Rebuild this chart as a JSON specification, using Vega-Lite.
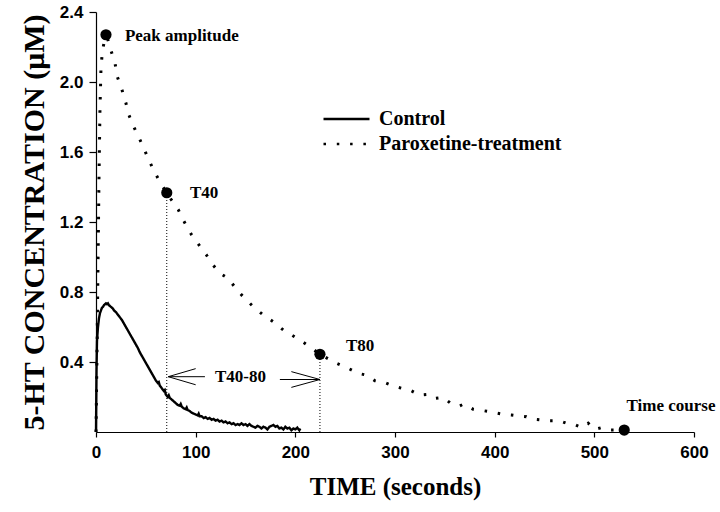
{
  "$schema": "https://vega.github.io/schema/vega-lite/v6.json",
  "autosize": "none",
  "width": 598,
  "height": 420,
  "padding": {"left": 96, "top": 12, "right": 26, "bottom": 80},
  "background": "white",
  "config": {
    "view": {"stroke": null},
    "axis": {
      "domainColor": "black", "domainWidth": 1.2, "tickColor": "black", "tickWidth": 1.2,
      "grid": false, "labelColor": "black", "titleColor": "black", "labelFlush": false,
      "labelFont": "Liberation Sans", "labelFontWeight": "bold", "labelFontSize": 17,
      "titleFont": "Liberation Serif", "titleFontWeight": "bold"
    }
  },
  "datasets": {
    "control": [
      {"t":0,"c":0},{"t":0.5,"c":0.35},{"t":1,"c":0.52},{"t":2,"c":0.6},{"t":3,"c":0.65},{"t":4,"c":0.68},{"t":5,"c":0.695},{"t":6,"c":0.71},{"t":7,"c":0.715},{"t":8,"c":0.725},{"t":9,"c":0.73},{"t":10,"c":0.735},{"t":11,"c":0.73},{"t":12,"c":0.735},{"t":13,"c":0.725},{"t":14,"c":0.72},{"t":15,"c":0.715},{"t":16,"c":0.71},{"t":17,"c":0.705},{"t":18,"c":0.695},{"t":19,"c":0.69},
      {"t":20,"c":0.685},{"t":22,"c":0.67},{"t":24,"c":0.655},{"t":26,"c":0.64},{"t":28,"c":0.62},{"t":30,"c":0.6},{"t":32,"c":0.58},{"t":34,"c":0.56},{"t":36,"c":0.54},{"t":38,"c":0.52},{"t":40,"c":0.5},{"t":42,"c":0.48},{"t":44,"c":0.455},{"t":46,"c":0.435},{"t":48,"c":0.415},{"t":50,"c":0.395},{"t":52,"c":0.375},{"t":54,"c":0.355},{"t":56,"c":0.335},{"t":58,"c":0.315},{"t":60,"c":0.295},{"t":62,"c":0.28},{"t":63,"c":0.285},{"t":64,"c":0.265},{"t":66,"c":0.25},{"t":68,"c":0.235},{"t":69,"c":0.24},{"t":70,"c":0.215},{"t":72,"c":0.2},{"t":73,"c":0.21},{"t":74,"c":0.195},{"t":76,"c":0.185},{"t":78,"c":0.175},{"t":80,"c":0.165},
      {"t":82,"c":0.155},{"t":84,"c":0.15},{"t":85,"c":0.16},{"t":86,"c":0.145},{"t":88,"c":0.135},{"t":90,"c":0.13},{"t":91,"c":0.14},{"t":92,"c":0.125},{"t":94,"c":0.12},{"t":96,"c":0.11},{"t":98,"c":0.105},{"t":100,"c":0.1},{"t":102,"c":0.095},{"t":103,"c":0.105},{"t":104,"c":0.09},{"t":106,"c":0.09},{"t":108,"c":0.08},{"t":110,"c":0.085},{"t":112,"c":0.075},{"t":114,"c":0.08},{"t":116,"c":0.07},{"t":118,"c":0.075},{"t":120,"c":0.065},{"t":122,"c":0.07},{"t":124,"c":0.06},{"t":126,"c":0.065},{"t":128,"c":0.055},{"t":130,"c":0.06},{"t":132,"c":0.05},{"t":134,"c":0.055},{"t":136,"c":0.045},{"t":138,"c":0.05},{"t":140,"c":0.04},{"t":142,"c":0.045},{"t":144,"c":0.04},{"t":146,"c":0.05},{"t":148,"c":0.04},{"t":150,"c":0.045},{"t":152,"c":0.035},{"t":154,"c":0.045},{"t":156,"c":0.035},{"t":158,"c":0.03},{"t":160,"c":0.025},{"t":162,"c":0.035},{"t":164,"c":0.03},{"t":166,"c":0.02},{"t":168,"c":0.03},{"t":170,"c":0.025},{"t":172,"c":0.015},{"t":174,"c":0.03},{"t":176,"c":0.035},{"t":178,"c":0.04},{"t":180,"c":0.03},{"t":182,"c":0.035},{"t":184,"c":0.02},{"t":186,"c":0.025},{"t":188,"c":0.015},{"t":190,"c":0.03},{"t":192,"c":0.02},{"t":194,"c":0.025},{"t":196,"c":0.01},{"t":198,"c":0.02},{"t":200,"c":0.015},{"t":202,"c":0.025},{"t":204,"c":0.01},{"t":205,"c":0.02}
    ],
    "parox": [
      {"t":0,"c":0},{"t":1,"c":0.45},{"t":2,"c":0.95},{"t":3,"c":1.45},{"t":4,"c":1.85},{"t":5,"c":2.08},{"t":6.5,"c":2.18},{"t":9,"c":2.25},{"t":11,"c":2.26},{"t":13,"c":2.22},{"t":15,"c":2.18},{"t":19,"c":2.11},{"t":21.4,"c":2.03},{"t":25.8,"c":1.96},{"t":30,"c":1.88},{"t":32.4,"c":1.82},{"t":37.4,"c":1.75},{"t":47.4,"c":1.63},{"t":52.5,"c":1.56},{"t":57.5,"c":1.5},{"t":64,"c":1.43},{"t":71,"c":1.365},{"t":82.6,"c":1.27},{"t":87.6,"c":1.21},{"t":96,"c":1.126},{"t":111,"c":1.01},{"t":116,"c":0.964},{"t":124.4,"c":0.907},{"t":132.7,"c":0.878},{"t":141,"c":0.815},{"t":147.7,"c":0.773},{"t":157.8,"c":0.716},{"t":167.8,"c":0.669},{"t":177.8,"c":0.63},{"t":187.9,"c":0.583},{"t":196.3,"c":0.554},{"t":204.6,"c":0.526},{"t":214.6,"c":0.487},{"t":224.7,"c":0.444},{"t":241.4,"c":0.392},{"t":253,"c":0.364},{"t":263,"c":0.335},{"t":271.5,"c":0.325},{"t":279.8,"c":0.293},{"t":289.9,"c":0.282},{"t":300,"c":0.259},{"t":306.6,"c":0.25},{"t":315,"c":0.24},{"t":324.3,"c":0.211},{"t":333.4,"c":0.215},{"t":340,"c":0.192},{"t":348.4,"c":0.198},{"t":356.8,"c":0.16},{"t":365,"c":0.149},{"t":369,"c":0.16},{"t":378.4,"c":0.13},{"t":388.5,"c":0.122},{"t":396.9,"c":0.114},{"t":408.5,"c":0.101},{"t":416.9,"c":0.097},{"t":424.4,"c":0.091},{"t":431.9,"c":0.087},{"t":437,"c":0.074},{"t":446,"c":0.069},{"t":455.4,"c":0.065},{"t":464.4,"c":0.065},{"t":472,"c":0.05},{"t":478.8,"c":0.046},{"t":487.2,"c":0.025},{"t":493.8,"c":0.05},{"t":500.5,"c":0.015},{"t":507.2,"c":0.025},{"t":515.5,"c":0.011},{"t":530,"c":0.011}
    ],
    "markers": [
      {"t":10,"c":2.27,"label":"Peak amplitude","lt":29,"lc":2.265},
      {"t":71,"c":1.367,"label":"T40","lt":94.3,"lc":1.364},
      {"t":224.7,"c":0.444,"label":"T80","lt":250.8,"lc":0.49},
      {"t":530,"c":0.011,"label":"Time course","lt":532.3,"lc":0.15}
    ],
    "drops": [
      {"t":71,"bottom":0,"top":1.34},
      {"t":224.7,"bottom":0,"top":0.42}
    ],
    "arrows": [
      {"t":72.5,"c":0.316,"t2":109.3,"c2":0.316},
      {"t":72.5,"c":0.316,"t2":100,"c2":0.362},
      {"t":72.5,"c":0.316,"t2":100,"c2":0.27},
      {"t":184.5,"c":0.3,"t2":224.7,"c2":0.3},
      {"t":196,"c":0.345,"t2":224.7,"c2":0.3},
      {"t":196,"c":0.255,"t2":224.7,"c2":0.3}
    ],
    "span": [
      {"t":119.4,"c":0.316,"label":"T40-80"}
    ]
  },
  "layer": [
    {
      "data": {"name": "control"},
      "mark": {"type": "line", "color": "black", "strokeWidth": 2.4},
      "encoding": {
        "x": {"field": "t", "type": "quantitative", "scale": {"domain": [0, 600], "nice": false},
              "axis": {"values": [0,100,200,300,400,500,600], "title": "TIME (seconds)", "titleFontSize": 25, "tickSize": 5, "labelPadding": 7, "titlePadding": 14, "labelFontWeight": "bold", "labelFontSize": 17}},
        "y": {"field": "c", "type": "quantitative", "scale": {"domain": [0, 2.4], "nice": false},
              "axis": {"values": [0.4,0.8,1.2,1.6,2.0,2.4], "format": ".1f", "title": "5-HT CONCENTRATION (μM)", "titleFontSize": 30, "tickSize": 7, "labelPadding": 6, "titlePadding": 10, "labelFontWeight": "bold", "labelFontSize": 17}},
        "strokeDash": {"datum": "Control", "type": "nominal",
          "scale": {"domain": ["Control", "Paroxetine-treatment"], "range": [[1, 0], [2.5, 10.8]]},
          "legend": {"title": null, "orient": "none", "legendX": 226, "legendY": 94, "padding": 0,
            "symbolType": "M-1,0H3", "symbolSize": 529, "symbolStrokeWidth": 2.6, "symbolStrokeColor": "black",
            "labelFont": "Liberation Serif", "labelFontWeight": "bold", "labelFontSize": 20, "labelColor": "black",
            "labelOffset": 31, "rowPadding": 2, "labelLimit": 400}}
      }
    },
    {
      "data": {"name": "parox"},
      "mark": {"type": "line", "color": "black", "strokeWidth": 3},
      "encoding": {
        "x": {"field": "t", "type": "quantitative"},
        "y": {"field": "c", "type": "quantitative"},
        "strokeDash": {"datum": "Paroxetine-treatment", "type": "nominal"}
      }
    },
    {
      "data": {"name": "drops"},
      "mark": {"type": "rule", "color": "black", "strokeWidth": 1, "strokeDash": [1, 2]},
      "encoding": {
        "x": {"field": "t", "type": "quantitative"},
        "y": {"field": "bottom", "type": "quantitative"},
        "y2": {"field": "top"}
      }
    },
    {
      "data": {"name": "arrows"},
      "mark": {"type": "rule", "color": "black", "strokeWidth": 1},
      "encoding": {
        "x": {"field": "t", "type": "quantitative"},
        "y": {"field": "c", "type": "quantitative"},
        "x2": {"field": "t2"},
        "y2": {"field": "c2"}
      }
    },
    {
      "data": {"name": "markers"},
      "mark": {"type": "point", "filled": true, "color": "black", "size": 125, "opacity": 1},
      "encoding": {
        "x": {"field": "t", "type": "quantitative"},
        "y": {"field": "c", "type": "quantitative"}
      }
    },
    {
      "data": {"name": "markers"},
      "mark": {"type": "text", "align": "left", "baseline": "middle", "font": "Liberation Serif", "fontWeight": "bold", "fontSize": 17, "color": "black"},
      "encoding": {
        "x": {"field": "lt", "type": "quantitative"},
        "y": {"field": "lc", "type": "quantitative"},
        "text": {"field": "label"}
      }
    },
    {
      "data": {"name": "span"},
      "mark": {"type": "text", "align": "left", "baseline": "middle", "font": "Liberation Serif", "fontWeight": "bold", "fontSize": 17, "color": "black"},
      "encoding": {
        "x": {"field": "t", "type": "quantitative"},
        "y": {"field": "c", "type": "quantitative"},
        "text": {"field": "label"}
      }
    }
  ]
}
